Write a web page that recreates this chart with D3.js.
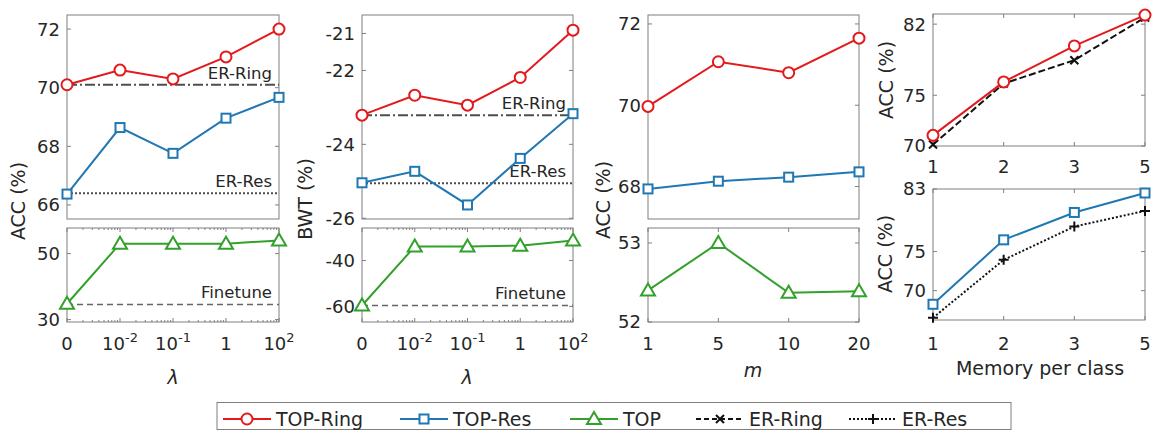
<!DOCTYPE html>
<html><head><meta charset="utf-8">
<script src="https://cdn.jsdelivr.net/npm/d3@7"></script>
<style>
body{margin:0;background:#fff;}
text{font-family:"DejaVu Sans",Verdana,sans-serif;fill:#262626;}
</style></head>
<body><svg id="c" width="1154" height="430"></svg>
<script>
// ---- data ----
const lambdaLabels = ["0", "10^-2", "10^-1", "1", "10^2"];
const mLabels = ["1", "5", "10", "20"];
const memLabels = ["1", "2", "3", "5"];

const accRingLambda = [70.1, 70.6, 70.3, 71.05, 72.0];
const accResLambda = [66.37, 68.64, 67.76, 68.96, 69.67];
const accTopLambda = [34.8, 53.0, 53.0, 53.0, 54.0];
const accErRing = 70.1, accErRes = 66.4, accFinetune = 34.6;

const bwtRingLambda = [-23.21, -22.67, -22.94, -22.19, -20.91];
const bwtResLambda = [-25.04, -24.73, -25.64, -24.38, -23.17];
const bwtTopLambda = [-59.6, -33.9, -33.9, -33.5, -31.3];
const bwtErRing = -23.21, bwtErRes = -25.05, bwtFinetune = -59.6;

const accRingM = [69.97, 71.07, 70.8, 71.65];
const accResM = [67.94, 68.13, 68.23, 68.36];
const accTopM = [52.4, 53.0, 52.37, 52.39];

const memTopRing = [71.05, 76.31, 79.86, 82.89];
const memErRing = [70.14, 76.15, 78.45, 82.66];
const memTopRes = [68.26, 76.5, 80.0, 82.49];
const memErRes = [66.54, 73.94, 78.2, 80.2];

const legendNames = ["TOP-Ring", "TOP-Res", "TOP", "ER-Ring", "ER-Res"];

const C = {red:"#e3191c", blue:"#1f78b4", green:"#33a02c", gray:"#4d4d4d", box:"#7f7f7f"};
const svg = d3.select("#c");

function tickLabel(sel, s){
  const m = s.match(/^(\d+)\^(.+)$/);
  if(m){ sel.append("tspan").text(m[1]); sel.append("tspan").attr("dy",-8).attr("font-size",13).text(m[2]); }
  else sel.text(s);
}

function panel(o){
  const g = svg.append("g");
  const x = d3.scalePoint().domain(o.cats).range([o.x0,o.x1]).padding(0);
  const y = d3.scaleLinear().domain(o.domain).range([o.y1,o.y0]);
  g.append("rect").attr("x",o.x0).attr("y",o.y0).attr("width",o.x1-o.x0).attr("height",o.y1-o.y0)
    .attr("fill","none").attr("stroke",C.box).attr("stroke-width",1);
  o.ticks.forEach(t=>{
    const yy=y(t);
    g.append("line").attr("x1",o.x0).attr("x2",o.x0+4).attr("y1",yy).attr("y2",yy).attr("stroke",C.box);
    g.append("line").attr("x1",o.x1).attr("x2",o.x1-4).attr("y1",yy).attr("y2",yy).attr("stroke",C.box);
    g.append("text").attr("x",o.x0-7).attr("y",yy).attr("dy","0.36em").attr("text-anchor","end")
      .attr("font-size",18).text(t);
  });
  if(o.xticks){
    o.cats.forEach((c,i)=>{
      const xx=x(c);
      g.append("line").attr("x1",xx).attr("x2",xx).attr("y1",o.y1).attr("y2",o.y1-4).attr("stroke",C.box);
      g.append("line").attr("x1",xx).attr("x2",xx).attr("y1",o.y0).attr("y2",o.y0+4).attr("stroke",C.box);
      if(o.minor && i<o.cats.length-1){
        const step = x.step();
        for(let k=2;k<10;k++){
          const mx = xx + Math.log10(k)*step;
          g.append("line").attr("x1",mx).attr("x2",mx).attr("y1",o.y1).attr("y2",o.y1-2).attr("stroke",C.box);
          g.append("line").attr("x1",mx).attr("x2",mx).attr("y1",o.y0).attr("y2",o.y0+2).attr("stroke",C.box);
        }
      }
    });
  }
  if(o.xlabels){
    o.cats.forEach(c=>{
      const t=g.append("text").attr("x",x(c)).attr("y",o.xlabY).attr("text-anchor","middle").attr("font-size",18);
      tickLabel(t,c);
    });
  }
  return {g,x,y};
}

function series(p, vals, color, marker, dash){
  const line=d3.line().x((d,i)=>p.x(p.x.domain()[i])).y(d=>p.y(d));
  p.g.append("path").attr("d",line(vals)).attr("fill","none").attr("stroke",color).attr("stroke-width",2)
    .attr("stroke-dasharray",dash||null);
  vals.forEach((v,i)=>drawMarker(p.g, p.x(p.x.domain()[i]), p.y(v), color, marker));
}
function drawMarker(g,cx,cy,color,marker){
  if(marker==="circle") g.append("circle").attr("cx",cx).attr("cy",cy).attr("r",5.5).attr("fill","#fff").attr("stroke",color).attr("stroke-width",2);
  else if(marker==="square") g.append("rect").attr("x",cx-4.5).attr("y",cy-4.5).attr("width",9).attr("height",9).attr("fill","#fff").attr("stroke",color).attr("stroke-width",2);
  else if(marker==="tri") g.append("path").attr("d",`M${cx},${cy-7}L${cx+7},${cy+5}L${cx-7},${cy+5}Z`).attr("fill","#fff").attr("stroke",color).attr("stroke-width",2);
  else if(marker==="x") g.append("path").attr("d",`M${cx-4},${cy-4}L${cx+4},${cy+4}M${cx-4},${cy+4}L${cx+4},${cy-4}`).attr("stroke",color).attr("stroke-width",2);
  else if(marker==="plus") g.append("path").attr("d",`M${cx-5},${cy}L${cx+5},${cy}M${cx},${cy-5}L${cx},${cy+5}`).attr("stroke",color).attr("stroke-width",2);
}
function hline(p, v, dash, color, w, label){
  const r=p.x.range();
  p.g.append("line").attr("x1",r[0]).attr("x2",r[1]).attr("y1",p.y(v)).attr("y2",p.y(v))
    .attr("stroke",color).attr("stroke-width",w).attr("stroke-dasharray",dash);
  p.g.append("text").attr("x",r[1]-7).attr("y",p.y(v)-12).attr("dy","0.36em").attr("text-anchor","end")
    .attr("font-size",16.5).text(label);
}
function ylabel(x,y,t){
  svg.append("text").attr("transform",`translate(${x},${y}) rotate(-90)`).attr("text-anchor","middle")
    .attr("dy","0.36em").attr("font-size",19).text(t);
}
function xlabel(x,y,t,italic){
  svg.append("text").attr("x",x).attr("y",y).attr("dy","0.36em").attr("text-anchor","middle")
    .attr("font-size",19).attr("font-style",italic?"italic":null).text(t);
}

// ---- Panel 1 ----
const p1a = panel({cats:lambdaLabels,x0:67,x1:279,y0:15,y1:219,domain:[65.52,72.48],ticks:[66,68,70,72]});
hline(p1a, accErRing, "10,3,2,3", C.gray, 2, "ER-Ring");
hline(p1a, accErRes, "2,2", C.gray, 2, "ER-Res");
series(p1a, accRingLambda, C.red, "circle");
series(p1a, accResLambda, C.blue, "square");
const p1b = panel({cats:lambdaLabels,x0:67,x1:279,y0:228,y1:322,domain:[29.27,57.76],ticks:[30,50],xticks:true,minor:true,xlabels:true,xlabY:350});
hline(p1b, accFinetune, "6,4", "#666", 1.5, "Finetune");
series(p1b, accTopLambda, C.green, "tri");
ylabel(18,201,"ACC (%)");
xlabel(173,377,"λ",true);

// ---- Panel 2 ----
const p2a = panel({cats:lambdaLabels,x0:362,x1:573,y0:15,y1:219,domain:[-26.02,-20.5],ticks:[-26,-24,-22,-21]});
hline(p2a, bwtErRing, "10,3,2,3", C.gray, 2, "ER-Ring");
hline(p2a, bwtErRes, "2,2", C.gray, 2, "ER-Res");
series(p2a, bwtRingLambda, C.red, "circle");
series(p2a, bwtResLambda, C.blue, "square");
const p2b = panel({cats:lambdaLabels,x0:362,x1:573,y0:228,y1:322,domain:[-66.8,-25.8],ticks:[-60,-40],xticks:true,minor:true,xlabels:true,xlabY:350});
hline(p2b, bwtFinetune, "6,4", "#666", 1.5, "Finetune");
series(p2b, bwtTopLambda, C.green, "tri");
ylabel(305,199,"BWT (%)");
xlabel(467,377,"λ",true);

// ---- Panel 3 ----
const p3a = panel({cats:mLabels,x0:648,x1:859,y0:15,y1:219,domain:[67.2,72.22],ticks:[68,70,72]});
series(p3a, accRingM, C.red, "circle");
series(p3a, accResM, C.blue, "square");
const p3b = panel({cats:mLabels,x0:648,x1:859,y0:228,y1:322,domain:[52,53.19],ticks:[52,53],xticks:true,xlabels:true,xlabY:350});
series(p3b, accTopM, C.green, "tri");
ylabel(603,200,"ACC (%)");
xlabel(753,370,"m",true);

// ---- Panel 4 ----
const p4a = panel({cats:memLabels,x0:933,x1:1145,y0:14,y1:146,domain:[70,83],ticks:[70,75,82],xticks:true,xlabels:true,xlabY:173});
series(p4a, memErRing, "#111", "x", "7,3");
series(p4a, memTopRing, C.red, "circle");
const p4b = panel({cats:memLabels,x0:933,x1:1145,y0:189,y1:320,domain:[66.25,83],ticks:[70,75,83],xticks:true,xlabels:true,xlabY:350});
series(p4b, memErRes, "#111", "plus", "2,2");
series(p4b, memTopRes, C.blue, "square");
ylabel(886,80,"ACC (%)");
ylabel(885,254,"ACC (%)");
xlabel(1040,368,"Memory per class");

// ---- Legend ----
const legendStyle = [
  {color:C.red, marker:"circle", dash:null, x:223},
  {color:C.blue, marker:"square", dash:null, x:400},
  {color:C.green, marker:"tri", dash:null, x:570},
  {color:"#111", marker:"x", dash:"5,3", x:696},
  {color:"#111", marker:"plus", dash:"2,2", x:849}
];
svg.append("rect").attr("x",217).attr("y",402.5).attr("width",794).attr("height",27).attr("fill","#fff").attr("stroke",C.box);
legendNames.forEach((name,i)=>{
  const it=legendStyle[i], ly=419;
  svg.append("line").attr("x1",it.x).attr("x2",it.x+48).attr("y1",ly).attr("y2",ly).attr("stroke",it.color).attr("stroke-width",2).attr("stroke-dasharray",it.dash);
  drawMarker(svg.append("g"),it.x+24,ly,it.color,it.marker);
  svg.append("text").attr("x",it.x+53).attr("y",ly).attr("dy","0.36em").attr("font-size",19).text(name);
});
</script></body></html>
